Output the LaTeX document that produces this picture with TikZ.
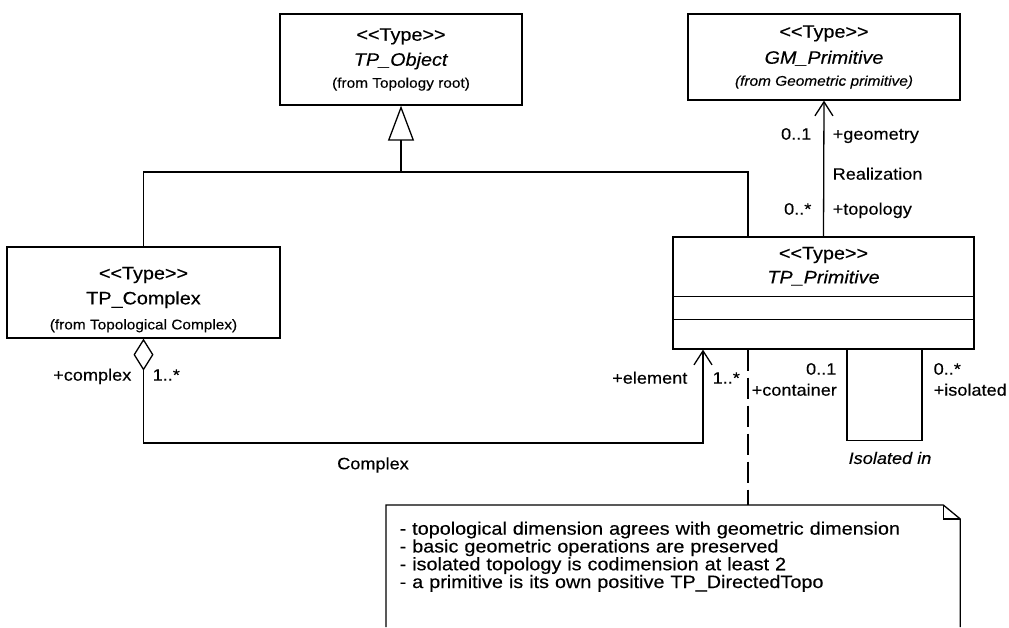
\documentclass[tikz,border=0pt]{standalone}
\usepackage{fontspec}
\setmainfont{Liberation Sans}[FakeStretch=1.1, FakeBold=0.3]
\usetikzlibrary{arrows.meta, positioning}
\newcommand{\stereo}{<\kern0pt<Type>\kern0pt>}
\newcommand{\fromfont}{\fontsize{14}{16}\selectfont}
\tikzset{
  umlbox/.style={
    rectangle,
    draw=black,
    align=center,
    inner sep=0pt,
    font=\fontsize{18}{25}\selectfont
  },
  role/.style={
    inner sep=0pt,
    font=\fontsize{16.5}{18}\selectfont
  },
  notebox/.style={
    align=left,
    text width=547pt,
    inner xsep=13pt,
    inner ysep=16pt,
    font=\fontsize{18}{16.3}\selectfont
  },
  generalize/.style={
    -{Triangle[open, length=35pt, width=26pt]}
  },
  navarrow/.style={
    -{Straight Barb[length=14pt, width=18pt]}
  },
  aggregate/.style={
    {Diamond[open, length=32pt, width=20pt]}-{Straight Barb[length=14pt, width=18pt]}
  },
  anchorline/.style={
    dash pattern=on 21pt off 7pt
  }
}

\begin{document}
\begin{tikzpicture}[x=1pt, y=-1pt, line width=1.3pt]
    \useasboundingbox (0,0) rectangle (1009,627);
    \coordinate (pagebottom) at (0,627);

    % classes
    \node[umlbox, minimum width=242pt, minimum height=91pt] (obj) at (401,59.5)
        {\stereo\\\textit{TP\_Object}\\[-3pt]{\fromfont (from Topology root)}};
    \node[umlbox, minimum width=272pt, minimum height=86pt] (gm) at (824,57)
        {\stereo\\[1pt]\textit{GM\_Primitive}\\[-3pt]{\fromfont\itshape (from Geometric primitive)}};
    \node[umlbox, minimum width=273pt, minimum height=91pt] (cplx) at (143.5,292.5) {};
    \node[umlbox, draw=none, anchor=north] (cplxname) at ([yshift=-20pt]cplx.north)
        {\stereo\\TP\_Complex\\{\fromfont (from Topological Complex)}};
    \node[umlbox, minimum width=301pt, minimum height=112pt] (prim) at (823.5,293) {};
    \node[umlbox, draw=none, anchor=north] (primname) at ([yshift=-10pt]prim.north)
        {\stereo\\[-1pt]\textit{TP\_Primitive}};
    \draw ([yshift=-60pt]prim.north west) -- ([yshift=-60pt]prim.north east);
    \draw ([yshift=-83pt]prim.north west) -- ([yshift=-83pt]prim.north east);

    % note
    \node[notebox, anchor=north west] (note) at (386,505)
        {- topological dimension agrees with geometric dimension\\
         - basic geometric operations are preserved\\
         - isolated topology is codimension at least 2\\
         - a primitive is its own positive TP\_DirectedTopo};
    \draw (note.north west |- pagebottom) -- (note.north west)
        -- ([xshift=-17pt]note.north east) -- ([yshift=-14pt]note.north east)
        -- (note.north east |- pagebottom);
    \draw ([xshift=-17pt]note.north east) |- ([yshift=-14pt]note.north east);

    % generalization
    \coordinate (genbar) at (401,172);
    \draw (cplx.north) |- (genbar) -| ([xshift=-75.5pt]prim.north);
    \draw[generalize] (genbar) -- (obj.south);

    % realization
    \draw[navarrow] (prim.north) -- (gm.south);
    \node[role, anchor=mid east] (geomult) at (812,137) {0..1};
    \node[role, anchor=mid west] (georole) at (832,137) {+geometry};
    \node[role, anchor=mid west] (realname) at (832,177) {Realization};
    \node[role, anchor=mid east] (topomult) at (812,212) {0..*};
    \node[role, anchor=mid west] (toporole) at (832,212) {+topology};

    % complex
    \coordinate (elemfoot) at (703,443);
    \draw[aggregate] (cplx.south) |- (elemfoot) -- (elemfoot |- prim.south);
    \node[role, anchor=mid east] (cplxrole) at (132,378) {+complex};
    \node[role, anchor=mid west] (cplxmult) at (152,378) {1..*};
    \node[role] (cplxlabel) at (373,465) {Complex};
    \node[role, anchor=mid east] (elemrole) at (688,381) {+element};
    \node[role, anchor=mid west] (elemmult) at (712,381) {1..*};

    % isolated in
    \draw ([xshift=23.5pt]prim.south) |- ([xshift=98.5pt, yshift=-91pt]prim.south)
        -- ([xshift=98.5pt]prim.south);
    \node[role, anchor=mid east] (contmult) at (837,372) {0..1};
    \node[role, anchor=mid west] (controle) at (751,393) {+container};
    \node[role, anchor=mid west] (isomult) at (933,372) {0..*};
    \node[role, anchor=mid west] (isorole) at (933,393) {+isolated};
    \node[role, font=\fontsize{16.5}{18}\selectfont\itshape] (isoname) at (890,458) {Isolated in};

    % note anchor
    \draw[anchorline] ([xshift=-75.5pt]prim.south) -- ([xshift=-75.5pt]prim.south |- note.north);
\end{tikzpicture}
\end{document}
